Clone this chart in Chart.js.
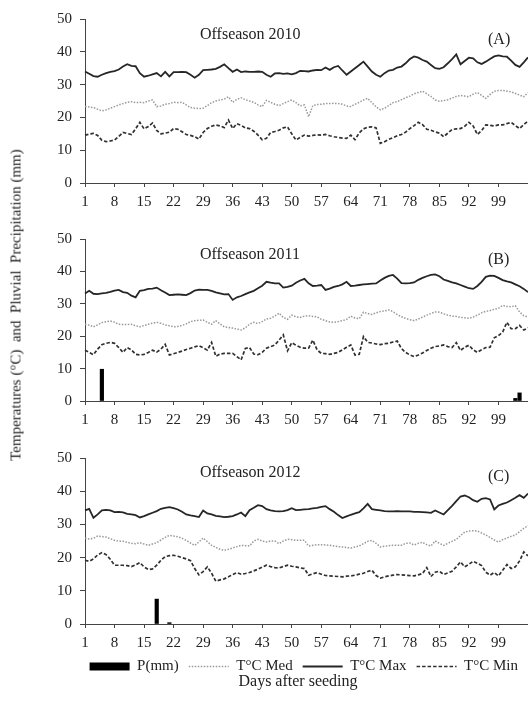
<!DOCTYPE html>
<html>
<head>
<meta charset="utf-8">
<script src="https://cdn.jsdelivr.net/npm/chart.js@4.4.0/dist/chart.umd.min.js"></script>
<style>
  body { margin: 0; width: 528px; height: 709px; overflow: hidden; background: #fff; position: relative; }
  .panel { position: absolute; left: 0; width: 528px; }
  #ytitle {
    position: absolute; left: 16px; top: 305px;
    transform: translate(-50%, -50%) rotate(-90deg);
    white-space: pre; font: 15px "Liberation Serif", serif; color: #222;
  }
</style>
</head>
<body>
<div class="panel" style="top:0;height:213px"><canvas id="chartA"></canvas></div>
<div class="panel" style="top:220px;height:211px"><canvas id="chartB"></canvas></div>
<div class="panel" style="top:439px;height:270px"><canvas id="chartC"></canvas></div>
<div id="ytitle">Temperatures (°C)  and  Pluvial  Precipitation (mm)</div>
<script>
const days = Array.from({length: 106}, (_, i) => i + 1);
const xTickDays = [1, 8, 15, 22, 29, 36, 43, 50, 57, 64, 71, 78, 85, 92, 99];

// Offseason 2010
const maxA = [34,33.3,32.6,32.4,33,33.5,33.9,34.1,34.6,35.5,
  36.2,35.7,35.6,33.5,32.4,32.7,33.1,33.5,32.5,33.9,
  32.5,33.8,33.8,33.9,33.8,33,32.1,33,34.4,34.5,
  34.6,34.8,35.4,36.2,35,33.9,34.6,33.8,34,33.9,
  33.9,34,33.9,33,32.4,33.4,33.5,33.3,33.4,33.1,
  33.5,34.2,34.1,34,34.3,34.5,34.4,35.2,34.5,35.3,
  35.7,34.3,33,34,35,36,37,35.5,34,33,
  32.4,33.5,34.3,34.5,35.2,35.5,36.5,37.8,38.6,38.2,
  37.5,37,36,35,34.8,35.3,36.5,37.8,39.2,36.2,
  37.2,38.2,38,36.8,36.3,37,37.8,38.6,38.9,38.6,
  38.5,37.3,36,35.4,36.8,38.3];
const medA = [23.3,23.2,23,22.5,22,22.3,22.8,23.3,23.8,24.2,
  24.6,24.8,24.5,24.6,24.5,25,25.3,23.3,23.5,24,
  24.2,24.6,24.5,24.6,23.8,23,22.8,22.7,22.8,23.6,
  24.5,25,25.3,25.6,26.3,24.6,25.5,26,25.4,25,
  24.6,23.8,23.3,25.2,24.6,24,23.6,24.2,24.8,25.3,
  24.5,23.5,23.8,20.2,23.6,23.9,24,24.2,24.2,24.3,
  24.2,24,23.5,23.3,24,24.6,25.3,25.8,24.5,23.2,
  22.3,22.8,23.6,24.5,24.8,25.4,26,26.5,27.2,27.6,
  28,27.2,26.4,25.3,24.9,25.1,25.4,25.9,26.4,26.7,
  26.5,26.3,27.1,27.6,26.7,25.8,27,28,28.2,28.2,
  28,27.8,27.3,26.8,26.3,27.6];
const minA = [14.6,14.9,15.1,14.5,13,12.6,12.8,13.1,14.2,15.4,
  15.1,14.8,16.5,18.5,16.5,17.2,18.3,16,15,15.2,
  15.5,16.6,16.4,15.6,14.8,14.5,14.1,13.4,15.4,16.6,
  17.3,17.7,17.4,16.9,19.2,16.6,18.1,17.6,16.8,16.6,
  15.8,14.6,13.2,13.6,15.4,15.7,16.1,16.8,17.1,15,
  13.1,13.9,14.6,14.3,14.5,14.7,14.6,14.8,14.4,14.1,
  13.9,13.7,13.6,14.6,13.2,15.3,16.5,17,17.1,16.8,
  12.1,12.6,13.3,13.8,14.4,14.8,15.5,16.6,17.5,18.5,
  17.8,16.4,16.1,15.6,15.2,14.1,15.2,16.3,16.5,16.6,
  17.3,18.5,17.4,14.8,16,17.7,17.6,17.4,17.7,17.7,
  18.1,18.5,17.5,16.6,17.8,18.9];
const rainDaysA = [];
const rainA = [];

// Offseason 2011
const maxB = [33.2,34,33.1,33,33.2,33.4,33.7,34.1,34.3,33.6,
  33.4,32.5,32,34,34.2,34.6,34.7,35,34.2,33.5,
  32.7,32.8,32.9,32.8,32.7,33.3,34.1,34.4,34.3,34.3,
  34,33.5,33.2,32.9,33,31.2,32,32.4,33,33.5,
  34,34.8,35.6,36.8,36.5,36.3,36.3,35,35.2,35.6,
  36.5,37.2,37.7,36.3,35.5,35.6,35.8,34.3,34.7,35.2,
  35.5,36,36.8,35.5,35.6,35.8,36,36.1,36.2,36.3,
  37.2,38,38.6,38.9,37.8,36.4,36.3,36.4,36.6,37.4,
  38,38.5,38.9,39.1,38.5,37.5,37.1,36.6,36.3,35.8,
  35.3,34.8,34.6,35.5,36.8,38.3,38.7,38.6,38,37.3,
  36.9,36.6,36,35.4,34.6,33.6];
const medB = [23.7,23.4,22.9,23.5,24.2,24.5,24.7,24.3,23.7,23.6,
  23.6,23.7,23.2,22.9,23.3,23.7,24,24.3,24,23.5,
  23.2,22.9,23,23.3,23.8,24.5,24.8,24.9,25,24.3,
  23.7,24.8,23.8,22.9,22.7,22.5,22.2,21.9,22.6,23.7,
  24.3,23.9,24.5,25.3,25.5,26.2,27.1,25.8,25.2,26.5,
  26,25.8,26.2,26.3,26.1,26,25.2,24.8,24.4,24.3,
  24.5,24.8,25.2,26.2,25.6,25.4,27.4,27,26.7,27.2,
  27.6,27.8,28.1,27.6,26.7,26,25.5,25.1,24.8,25.3,
  25.9,26.5,27,27.5,27.4,26.9,26.5,26.2,26.1,25.8,
  25.7,25.5,25.9,26.5,27.2,27.7,27.9,28.3,28.6,29.5,
  29.2,29.1,29.4,27.5,26.3,26];
const minB = [15.7,15,14.3,16,17.4,17.8,18.1,17.8,16.5,15,
  16.5,15.8,14.4,14.2,14.4,15,15.7,15.1,16,17.5,
  14.2,14.6,15,15.4,15.9,16.3,16.7,17.1,16.4,15.7,
  18.1,13.8,14.5,14.7,14.7,14.7,13.7,12.7,16.2,16.5,
  14.5,14.3,15,16.3,16.8,17.3,18.8,20.4,15.5,18,
  17.2,16.6,16.3,16.3,18.8,15.8,14.7,14.6,14.4,14.7,
  15,15.8,16.6,17.3,14.2,14.4,19.9,18.1,17.9,17.6,
  17.4,17.7,17.8,18.2,18.5,16.2,15,14.2,13.7,14.2,
  14.8,15.6,16.3,16.8,17,17.3,16.8,16.5,18,15.6,
  16.6,17.2,15.8,15,15.8,16.5,16.6,19.5,20.2,21.3,
  24.3,22.3,22.3,23.3,21.9,22.6];
const rainDaysB = [5, 103, 104];
const rainB = [9.8, 0.8, 2.5];

// Offseason 2012
const maxC = [34.2,34.7,32,33,34.2,34.4,34.2,33.7,33.8,33.6,
  33.2,33,32.8,32.1,32.5,33,33.5,34,34.7,35,
  35.2,34.9,34.5,33.8,33,32.7,32.5,32.2,34.2,33.3,
  33,32.6,32.4,32.2,32.3,32.5,33,33.6,32.5,34.3,
  35,35.8,35.5,34.6,34.2,34,33.9,34,34.3,34.9,
  34.3,34.4,34.5,34.6,34.8,35,35.3,35.5,34.6,33.8,
  32.8,31.9,32.4,32.9,33.3,33.7,34.8,36.2,34.6,34.4,
  34.2,34,33.9,33.9,34,33.9,33.9,33.9,33.8,33.8,
  33.7,33.6,33.5,34.2,33.6,33,34.3,35.6,37,38.4,
  38.7,38.2,37.3,36.8,37.7,37.9,37.5,34.5,35.7,36.2,
  36.6,37.3,38,38.8,38,39.3];
const medC = [25.9,25.6,25.8,26.5,26.3,26.2,25.7,25.2,25,24.9,
  24.6,24.3,24.2,24.5,24.1,23.7,24.1,24.5,25.3,26.1,
  26.7,26.5,26.3,25.8,25.2,24.4,23.7,24.7,25.9,24.8,
  23.7,23.1,22.5,22.2,22.5,22.9,23.3,23.7,23.6,23.5,
  25,25.5,25,24.7,25,25,24.2,25,25.5,25.4,
  25.2,25.2,25.2,23.5,23.7,23.9,23.9,23.8,23.7,23.5,
  23.3,23.2,23,22.9,23.2,23.5,24.2,24.9,25.2,24.3,
  23.2,23.4,23.6,23.7,23.7,23.7,24.3,24.4,23.8,24.3,
  24.6,23.9,23.5,25,24.3,23.7,24.3,24.9,25.5,26.6,
  27.7,28,28.1,28,27.4,26.8,26.1,25.3,24.7,25.4,
  25.9,26.4,26.8,27.8,28.8,29.6];
const minC = [19.2,18.9,19.6,20.8,21.5,20.9,19.5,17.7,17.7,17.7,
  17.6,17.3,17.8,18.5,17.2,16.4,16.6,17.7,19.2,20.3,
  20.6,20.7,20.4,20,19.6,19.1,16.7,14.8,15.8,17.2,
  15.3,12.9,13.3,13.6,14.2,14.9,15.5,15,15.2,15.5,
  16,16.5,17.1,17.7,17.3,17,16.9,17.3,17.7,17.4,
  17.2,16.9,16.7,14.7,15.1,15.5,15,14.6,14.5,14.4,
  14.3,14.2,14.4,14.5,14.7,15,15.3,15.8,16.2,14.6,
  13.8,14.2,14.5,14.7,14.9,14.8,14.7,14.6,14.5,14.8,
  15.2,17,14.3,15.6,15.9,14.9,15.4,15.9,17.2,18.7,
  17.2,18,18.9,18.3,17.6,15.6,14.7,15.5,14.5,16.2,
  17.9,16.7,17.2,19,21.7,20.5];
const rainDaysC = [18, 21];
const rainC = [7.5, 0.4];

Chart.defaults.font.family = '"Liberation Serif", "Times New Roman", serif';
Chart.defaults.font.size = 15;
Chart.defaults.color = '#222';

// panel captions drawn inside the plot area
const panelText = {
  id: 'panelText',
  afterDraw(chart, args, opts) {
    const {ctx, chartArea} = chart;
    ctx.save();
    ctx.fillStyle = '#222';
    ctx.font = '16px "Liberation Serif", serif';
    ctx.textBaseline = 'middle';
    ctx.fillText(opts.title, 200, chartArea.top + opts.titleDy);
    ctx.fillText(opts.tag, 488, chartArea.top + opts.tagDy);
    if (opts.xTitle) {
      ctx.textAlign = 'center';
      ctx.fillText(opts.xTitle, 298, chartArea.bottom + 58);
    }
    ctx.restore();
  }
};

function makePanel(id, p) {
  return new Chart(document.getElementById(id), {
    type: 'line',
    data: {
      labels: days,
      datasets: [
        { type: 'bar', label: 'P(mm)', data: p.rainDays.map((d, i) => ({x: d, y: p.rain[i]})),
          backgroundColor: '#000', borderColor: '#000', borderWidth: 0, barThickness: 3.5 },
        { label: 'T°C Med', data: p.med, borderColor: '#999', borderWidth: 1.5,
          borderDash: [1.5, 1.5], pointRadius: 0 },
        { label: 'T°C Max', data: p.max, borderColor: '#262626', borderWidth: 1.8, pointRadius: 0 },
        { label: 'T°C Min', data: p.min, borderColor: '#303030', borderWidth: 1.7,
          borderDash: [3.5, 2], pointRadius: 0 }
      ]
    },
    options: {
      responsive: true,
      maintainAspectRatio: false,
      animation: false,
      layout: { padding: { top: 19, bottom: p.padBottom } },
      scales: {
        x: {
          type: 'category',
          offset: false,
          grid: { drawOnChartArea: false, tickLength: 4, color: '#444', offset: false },
          border: { color: '#444' },
          ticks: { autoSkip: false, maxRotation: 0, padding: 6 },
          afterBuildTicks: s => { s.ticks = s.ticks.filter(t => xTickDays.includes(days[t.value])); },
          afterFit: s => { s.height = p.axisH; }
        },
        y: {
          min: 0,
          max: 50,
          ticks: { stepSize: 10, padding: 8 },
          grid: { drawOnChartArea: false, tickLength: 5, color: '#444' },
          border: { color: '#444' },
          afterFit: s => { s.width = 85; }
        }
      },
      plugins: {
        tooltip: { enabled: false },
        panelText: p.text,
        legend: {
          display: p.legend,
          position: 'bottom',
          align: 'end',
          labels: {
            usePointStyle: true,
            pointStyleWidth: 40,
            boxHeight: 8,
            padding: 10,
            color: '#222',
            generateLabels: chart => chart.data.datasets.map((ds, i) => ({
              text: ds.label,
              fillStyle: ds.backgroundColor || 'rgba(0,0,0,0)',
              strokeStyle: ds.borderColor,
              lineWidth: ds.type === 'bar' ? 0 : ds.borderWidth,
              lineDash: ds.borderDash || [],
              pointStyle: ds.type === 'bar' ? 'rect' : 'line',
              fontColor: '#222',
              hidden: false,
              datasetIndex: i
            }))
          }
        }
      }
    },
    plugins: [panelText]
  });
}

makePanel('chartA', { max: maxA, med: medA, min: minA, rainDays: rainDaysA, rain: rainA,
  axisH: 30, padBottom: 0, legend: false,
  text: { title: 'Offseason 2010', tag: '(A)', titleDy: 16, tagDy: 21 } });
makePanel('chartB', { max: maxB, med: medB, min: minB, rainDays: rainDaysB, rain: rainB,
  axisH: 30, padBottom: 0, legend: false,
  text: { title: 'Offseason 2011', tag: '(B)', titleDy: 16, tagDy: 21 } });
makePanel('chartC', { max: maxC, med: medC, min: minC, rainDays: rainDaysC, rain: rainC,
  axisH: 25, padBottom: 25, legend: true,
  text: { title: 'Offseason 2012', tag: '(C)', titleDy: 15, tagDy: 19, xTitle: 'Days after seeding' } });
</script>
</body>
</html>
